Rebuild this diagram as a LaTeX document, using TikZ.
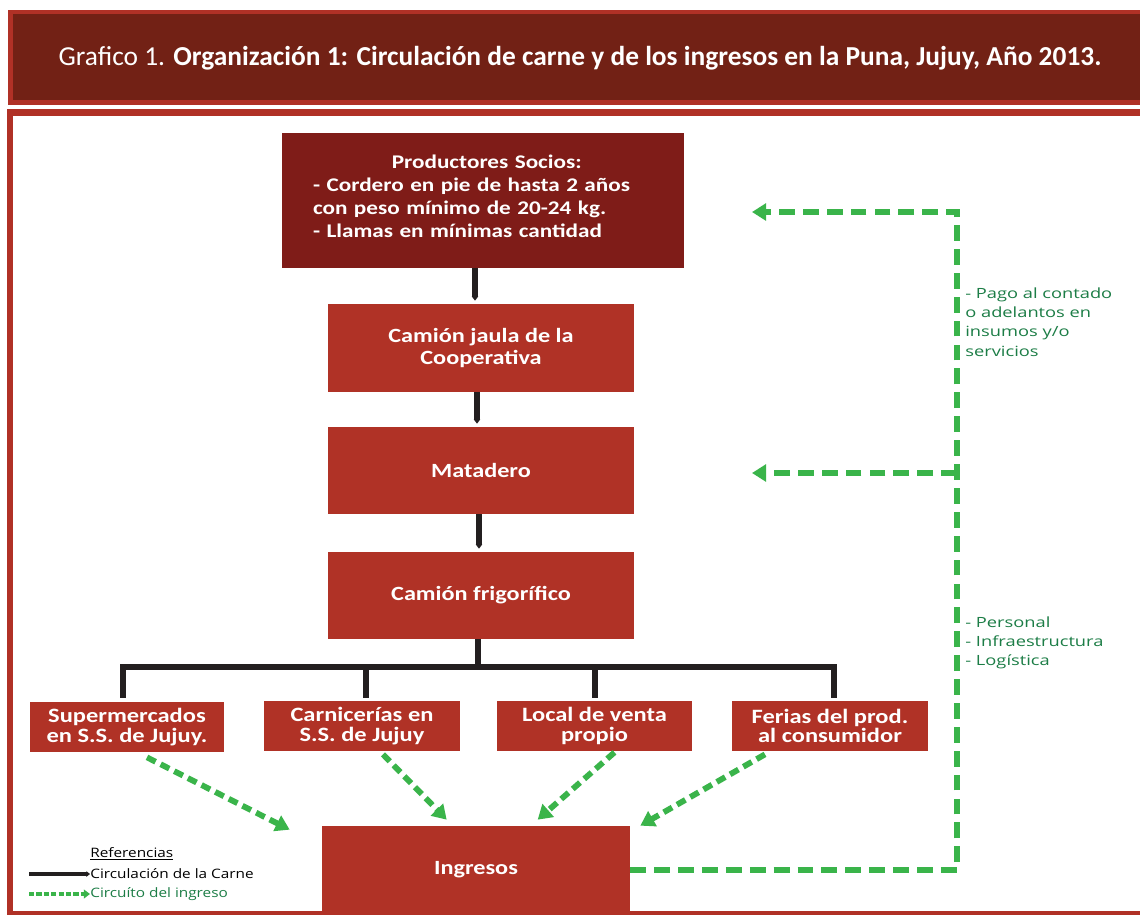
\documentclass[tikz,border=0pt]{standalone}
\usepackage{fontspec}
\setmainfont{Carlito}
\newfontfamily\boxfont{Carlito}[FakeStretch=1.2]
\newfontfamily\sidefont{Open Sans}[FakeStretch=1.3]
\newfontfamily\legfont{Open Sans}[FakeStretch=1.18]
\usetikzlibrary{arrows.meta,calc}
\definecolor{bannerdark}{RGB}{114,33,21}
\definecolor{framered}{RGB}{176,49,38}
\definecolor{proddark}{RGB}{127,28,24}
\definecolor{boxred}{RGB}{176,50,38}
\definecolor{moneygreen}{RGB}{58,180,74}
\definecolor{textgreen}{RGB}{28,125,70}
\definecolor{meatblack}{RGB}{35,31,32}
\begin{document}
\begin{tikzpicture}[x=0.02cm,y=-0.02cm,
  redbox/.style={fill=boxred, draw=none, inner sep=0pt, text=white, align=center,
    font=\boxfont\bfseries\fontsize{11.5pt}{13pt}\selectfont},
  salebox/.style={redbox, minimum width=3.9cm, minimum height=1.0cm,
    font=\boxfont\bfseries\fontsize{11.6pt}{10.9pt}\selectfont},
  meat/.style={draw=meatblack, line width=3.4pt},
  meattip/.style={meat, -{Triangle[length=2.5pt,width=3.6pt]}},
  money/.style={draw=moneygreen, line width=3.3pt, dash pattern=on 9pt off 4.6pt,
    -{Triangle[length=8pt,width=9.5pt]}},
  moneydiag/.style={draw=moneygreen, line width=3.3pt, dash pattern=on 5.5pt off 3.2pt,
    -{Triangle[length=8pt,width=9.5pt]}},
  sidetext/.style={text=textgreen, align=left, anchor=north west, inner sep=0pt,
    font=\sidefont\fontsize{8pt}{11pt}\selectfont},
  legendtext/.style={anchor=west, inner sep=0pt, font=\legfont\fontsize{7.4pt}{9pt}\selectfont}
]
\useasboundingbox (0,0) rectangle (1140,914);
% banner
\fill[framered] (8,10) rectangle (1146,105);
\fill[bannerdark] (13,14) rectangle (1146,100);
\node[text=white, inner sep=0pt, font=\fontsize{15.6pt}{18pt}\selectfont] (title) at (580,58)
  {Grafico 1. \textbf{Organización 1: Circulación de carne y de los ingresos en la Puna, Jujuy, Año 2013.}};
% main frame
\fill[framered] (7,109) rectangle (1146,916);
\fill[white] (13,116) rectangle (1146,911);

% boxes
\node[redbox, fill=proddark, minimum width=8.04cm, minimum height=2.7cm] (prod) at (483,200.5) {};
\node[text=white, align=left, inner sep=0pt, text width=6.6cm,
  font=\boxfont\bfseries\fontsize{11pt}{13pt}\selectfont] (prodtext) at (478,196.5)
  {\makebox[\linewidth][c]{\hspace{10pt}Productores Socios:}\\
   - Cordero en pie de hasta 2 años\\
   con peso mínimo de 20-24 kg.\\
   - Llamas en mínimas cantidad};
\node[redbox, minimum width=6.12cm, minimum height=1.76cm] (cam) at (481,348) {Camión jaula de la\\Cooperativa};
\node[redbox, minimum width=6.12cm, minimum height=1.74cm] (mat) at (481,470.5) {Matadero};
\node[redbox, minimum width=6.12cm, minimum height=1.74cm] (frig) at (481,595.5) {Camión frigorífico};
\node[salebox, minimum width=3.88cm] (super) at (127,727) {Supermercados\\en S.S. de Jujuy.};
\node[salebox, minimum width=3.92cm] (carn) at (362,726) {Carnicerías en\\S.S. de Jujuy};
\node[salebox, minimum width=3.9cm] (local) at (594.5,726) {Local de venta\\propio};
\node[salebox, minimum width=3.92cm] (ferias) at (830,726) {Ferias del prod.\\al consumidor};
\node[redbox, minimum width=6.16cm, minimum height=1.76cm] (ing) at (476,870) {Ingresos};

% meat flow
\coordinate (xa) at (475,0);
\coordinate (xb) at (477,0);
\coordinate (xc) at (479,0);
\coordinate (xd) at (478,0);
\coordinate (bus) at (0,667);
\draw[meattip, shorten >=1.7pt] (prod.south -| xa) -- (cam.north -| xa);
\draw[meattip, shorten >=1.7pt] (cam.south -| xb) -- (mat.north -| xb);
\draw[meattip, shorten >=1.7pt] (mat.south -| xc) -- (frig.north -| xc);
\draw[meat] (frig.south -| xd) -- (xd |- bus);
\draw[meat] ($(super.north)+(-4,-4)$) |- ($(ferias.north)+(4,-34)$) -- ($(ferias.north)+(4,-3)$);
\draw[meat] ($(carn.north)+(4,-3)$) -- ($(carn.north)+(4,-34)$);
\draw[meat] ($(local.north)+(0.5,-3)$) -- ($(local.north)+(0.5,-34)$);

% money flow
\coordinate (cR) at (957,0);
\coordinate (arrTop) at (752,212);
\coordinate (arrMid) at (752,473);
\coordinate (jMid) at (957,473);
\draw[money] (ing.east) -| (cR |- arrTop) -- (arrTop);
\draw[money] (jMid) -- (arrMid);
\draw[moneydiag] ($(super.south)+(20,5)$) -- ($(ing.north west)+(-32,4)$);
\draw[moneydiag] ($(carn.south)+(21,3)$) -- ($(ing.north west)+(125,-6)$);
\draw[moneydiag] ($(local.south)+(20,1)$) -- ($(ing.north west)+(216,-6)$);
\draw[moneydiag] ($(ferias.south)+(-65,3)$) -- ($(ing.north east)+(10,0)$);

% side labels
\node[sidetext] (pago) at (965,287) {- Pago al contado\\o adelantos en\\insumos y/o\\servicios};
\node[sidetext] (pers) at (965,616) {- Personal\\- Infraestructura\\- Logística};

% legend
\node[legendtext] (refs) at (90,854) {\underline{Referencias}};
\node[legendtext] (leg1) at (90,874) {Circulación de la Carne};
\node[legendtext, text=textgreen] (leg2) at (90,894) {Circuíto del ingreso};
\coordinate (l1s) at (29,874);
\coordinate (l2s) at (29,894);
\draw[meat, line width=2.8pt, -{Triangle[length=2pt,width=3pt]}] (l1s) -- (leg1.west);
\draw[draw=moneygreen, line width=2.8pt, dash pattern=on 3pt off 1.2pt,
  -{Triangle[length=3.5pt,width=5pt]}] (l2s) -- (leg2.west);
\end{tikzpicture}
\end{document}
